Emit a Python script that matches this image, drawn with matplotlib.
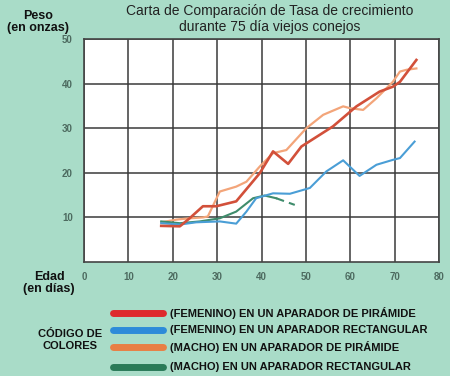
import matplotlib
matplotlib.use("Agg")
import matplotlib.pyplot as plt
from matplotlib.lines import Line2D

plt.rcParams['font.family'] = ['Liberation Sans', 'DejaVu Sans']

# Female, pyramid box (red)
fp_x = [17.4, 21.6, 23.8, 26.8, 29.8, 34.3, 39.6, 42.6, 46.0, 49.0, 56.1, 61.4, 66.6, 69.6, 71.2, 74.9]
fp_y = [8.1, 8.0, 9.8, 12.5, 12.5, 13.6, 19.9, 24.8, 22.0, 25.9, 30.4, 34.9, 38.2, 39.3, 40.4, 45.3]
# Female, rectangular box (blue)
fr_x = [17.4, 21.6, 25.3, 30.6, 34.3, 36.6, 38.8, 42.6, 46.4, 50.9, 54.6, 58.4, 62.1, 65.9, 69.6, 71.2, 74.5]
fr_y = [8.7, 8.4, 8.9, 9.1, 8.6, 11.3, 14.3, 15.4, 15.3, 16.6, 20.3, 22.8, 19.3, 21.8, 22.9, 23.3, 27.0]
# Male, pyramid box (orange)
mp_x = [17.4, 20.8, 23.8, 26.8, 27.9, 30.6, 34.3, 36.6, 39.6, 42.6, 45.6, 50.1, 53.9, 58.4, 59.9, 62.9, 65.9, 69.6, 71.2, 72.7, 74.9]
mp_y = [8.9, 9.5, 9.8, 10.0, 10.2, 15.8, 16.9, 18.0, 21.4, 24.4, 25.1, 30.0, 33.0, 34.9, 34.5, 34.1, 36.7, 40.4, 42.7, 43.1, 43.4]
# Male, rectangular box (green), solid then dashed end
mr_x = [17.4, 21.6, 26.1, 30.6, 34.3, 38.1, 40.7, 43.3]
mr_y = [9.1, 8.7, 9.1, 9.8, 11.3, 14.3, 14.9, 14.3]
mr_dash_x = [43.3, 47.5]
mr_dash_y = [14.3, 12.8]

x_ticks = [0, 10, 20, 30, 40, 50, 60, 70, 80]
y_ticks = [10, 20, 30, 40, 50]

legend_labels = [
    "(FEMENINO) EN UN APARADOR DE PIRÁMIDE",
    "(FEMENINO) EN UN APARADOR RECTANGULAR",
    "(MACHO) EN UN APARADOR DE PIRÁMIDE",
    "(MACHO) EN UN APARADOR RECTANGULAR",
]
line_colors = ["#d2503a", "#4a9ed6", "#f3a57a", "#3f8c6c"]
swatch_colors = ["#de2a2c", "#2d8bd9", "#e87f45", "#2a7a58"]

bg = "#a9dcc8"
fig = plt.figure(figsize=(4.5, 3.76), dpi=100, facecolor=bg)
ax = fig.add_axes([84/450, 1-262/376, 355/450, 223/376])
ax.set_facecolor("white")

ax.plot(mp_x, mp_y, color=line_colors[2], lw=1.6, zorder=3)
ax.plot(mr_x, mr_y, color=line_colors[3], lw=1.5, zorder=3)
ax.plot(mr_dash_x, mr_dash_y, color=line_colors[3], lw=1.5, ls=(0, (4, 2.5)), zorder=3)
ax.plot(fr_x, fr_y, color=line_colors[1], lw=1.5, zorder=4)
ax.plot(fp_x, fp_y, color=line_colors[0], lw=1.9, zorder=5)

ax.set_xlim(0, 80)
ax.set_ylim(0, 50)
ax.set_xticks(x_ticks)
ax.set_yticks(y_ticks)
ax.grid(True, color="#3a3a3a", lw=1.1)
ax.set_axisbelow(True)
for s in ax.spines.values():
    s.set_color("#444444")
    s.set_linewidth(1.2)
ax.tick_params(axis='both', length=0, colors="#555555", labelsize=7)
ax.tick_params(axis='x', pad=7)
ax.tick_params(axis='y', pad=8)
for lab in ax.get_xticklabels() + ax.get_yticklabels():
    lab.set_fontweight('bold')
    lab.set_color("#4d6b60")

fig.text(270/450, 1-19/376, "Carta de Comparación de Tasa de crecimiento\ndurante 75 día viejos conejos",
         ha='center', va='center', fontsize=10, color="#222222", linespacing=1.1)
fig.text(38/450, 1-22/376, "Peso\n(en onzas)", ha='center', va='center', fontsize=9,
         fontweight='bold', color="#111111", linespacing=1.0)
fig.text(49/450, 1-283/376, "Edad\n(en días)", ha='center', va='center', fontsize=9,
         fontweight='bold', color="#111111", linespacing=1.0)
fig.text(70/450, 1-340/376, "CÓDIGO DE\nCOLORES", ha='center', va='center', fontsize=8,
         fontweight='bold', color="#111111", linespacing=1.15)

rows_y = [313, 330, 347, 367]
for yy, lab, c in zip(rows_y, legend_labels, swatch_colors):
    fy = 1 - yy/376
    fig.add_artist(Line2D([113/450, 163/450], [fy, fy], color=c, lw=5, solid_capstyle='round'))
    fig.text(170/450, fy, lab, ha='left', va='center', fontsize=8.0, fontweight='bold',
             color="#111111")

fig.savefig("out.png", dpi=100, facecolor=bg)
